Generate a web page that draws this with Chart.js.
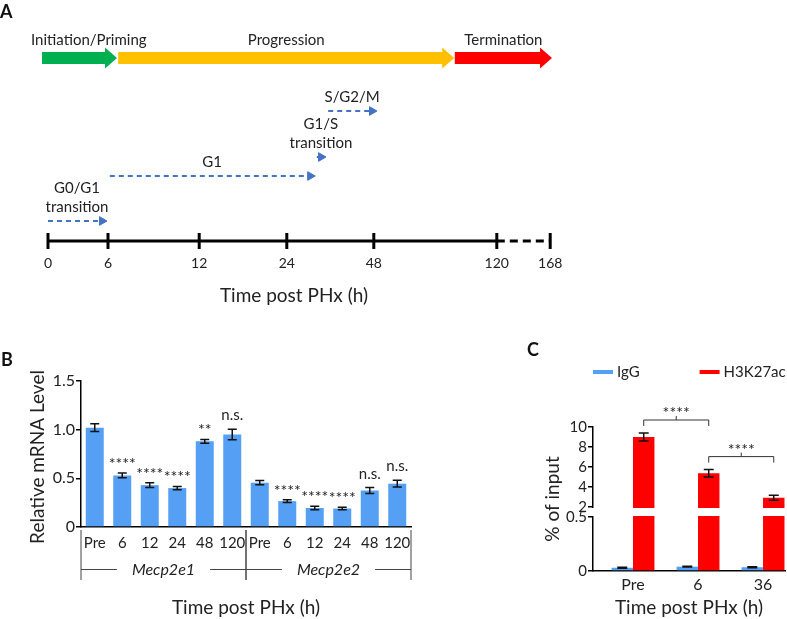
<!DOCTYPE html>
<html>
<head>
<meta charset="utf-8">
<script src="https://cdn.jsdelivr.net/npm/chart.js@4.4.1/dist/chart.umd.min.js"></script>
<style>
  html, body { margin: 0; padding: 0; background: #fff; }
  body { width: 787px; height: 619px; position: relative; overflow: hidden; font-family: Lato, "Open Sans", sans-serif; }
  .panel { position: absolute; }
  .tag { position: absolute; font-weight: bold; font-size: 18px; line-height: 22px; color: #111; }
</style>
</head>
<body>
<div class="panel" style="left:0;top:0;width:787px;height:320px"><canvas id="chartA"></canvas></div>
<div class="panel" style="left:0;top:340px;width:420px;height:279px"><canvas id="chartB"></canvas></div>
<div class="panel" style="left:490px;top:330px;width:297px;height:289px"><canvas id="chartC"></canvas></div>
<div class="tag" style="left:0;top:0">A</div>
<div class="tag" style="left:1px;top:348px">B</div>
<div class="tag" style="left:527px;top:338px">C</div>
<script>
// ---------- A: liver regeneration timeline ----------
const phaseNames = ['Initiation/Priming', 'Progression', 'Termination'];
const phaseStart = [-0.1, 1.17, 6.78];
const phaseEnd = [1.15, 6.77, 8.4];
const phaseColors = ['#00b050', '#ffc000', '#ff0000'];
const phaseLevel = 9.15;

const timeLabels = ['0', '6', '12', '24', '48', '120', '168'];
const timePos = [0, 1, 2.52, 3.98, 5.43, 7.48, 8.37];

const cycleNames = [['G0/G1', 'transition'], ['G1'], ['G1/S', 'transition'], ['S/G2/M']];
const cycleStart = [0, 1.03, 4.48, 4.67];
const cycleEnd = [0.9, 4.37, 4.55, 5.4];
const cycleLevel = [1, 3.25, 4.2, 6.5];

// ---------- B: Mecp2 isoform mRNA ----------
const mrnaLabels = ['Pre', '6', '12', '24', '48', '120', 'Pre', '6', '12', '24', '48', '120'];
const mrnaGroups = ['Mecp2e1', 'Mecp2e2'];
const mrnaMean = [1.02, 0.53, 0.43, 0.40, 0.88, 0.95, 0.455, 0.266, 0.195, 0.19, 0.375, 0.445];
const mrnaErr = [0.04, 0.025, 0.025, 0.017, 0.02, 0.053, 0.022, 0.015, 0.017, 0.012, 0.03, 0.035];
const mrnaSig = ['', '****', '****', '****', '**', 'n.s.', '', '****', '****', '****', 'n.s.', 'n.s.'];
const mrnaTicks = [0, 0.5, 1.0, 1.5];

// ---------- C: ChIP at Mecp2 ----------
const chipLabels = ['Pre', '6', '36'];
const chipSeries = ['IgG', 'H3K27ac'];
const iggMean = [0.03, 0.04, 0.035];
const iggErr = [0.004, 0.004, 0.004];
const h3Mean = [9.0, 5.37, 2.93];
const h3Err = [0.4, 0.37, 0.25];
const chipTicks = [0, 0.5, 2, 4, 6, 8, 10];
const chipPairs = [[0, 1], [1, 2]];
const chipPairText = ['****', '****'];

const FONT = 'Lato, "Open Sans", sans-serif';
const INK = '#222';
const BLUE_ARROW = '#4472c4';
const BAR_BLUE = '#55a0f5';
Chart.defaults.font.family = FONT;
Chart.defaults.color = INK;

// panel A ------------------------------------------------
const timelineDecor = {
  id: 'timelineDecor',
  beforeDatasetsDraw(chart) {
    const { ctx, scales: { x, y } } = chart;
    const py = y.getPixelForValue(phaseLevel);
    ctx.save();
    ctx.font = '15px ' + FONT;
    ctx.textAlign = 'center';
    ctx.textBaseline = 'middle';
    phaseNames.forEach((name, i) => {
      const x0 = x.getPixelForValue(phaseStart[i]);
      const x1 = x.getPixelForValue(phaseEnd[i]);
      const head = 12, body = 6, wing = 10.5;
      ctx.beginPath();
      ctx.moveTo(x0, py - body);
      ctx.lineTo(x1 - head, py - body);
      ctx.lineTo(x1 - head, py - wing);
      ctx.lineTo(x1, py);
      ctx.lineTo(x1 - head, py + wing);
      ctx.lineTo(x1 - head, py + body);
      ctx.lineTo(x0, py + body);
      ctx.closePath();
      ctx.fillStyle = phaseColors[i];
      ctx.fill();
      const w = ctx.measureText(name).width;
      const cx = Math.max((x0 + x1) / 2, 31 + w / 2);
      ctx.fillStyle = INK;
      ctx.fillText(name, cx, py - 18);
    });
    cycleNames.forEach((lines, i) => {
      const cx = (x.getPixelForValue(cycleStart[i]) + x.getPixelForValue(cycleEnd[i])) / 2 + 2;
      const ay = y.getPixelForValue(cycleLevel[i]);
      lines.forEach((t, j) => ctx.fillText(t, cx, ay - 14 - (lines.length - 1 - j) * 19));
    });
    ctx.restore();
  }
};

const cycleSets = cycleNames.map((n, i) => ({
  data: [{ x: cycleStart[i], y: cycleLevel[i] }, { x: cycleEnd[i], y: cycleLevel[i] }],
  showLine: true,
  borderColor: BLUE_ARROW,
  borderWidth: 2,
  borderDash: [5, 4],
  pointRadius: [0, 5],
  pointStyle: 'triangle',
  pointRotation: 90,
  pointBackgroundColor: BLUE_ARROW,
  pointBorderColor: BLUE_ARROW,
  pointBorderWidth: 1,
  clip: false
}));

new Chart(document.getElementById('chartA'), {
  type: 'scatter',
  data: {
    datasets: [
      { data: [{ x: timePos[0], y: 0 }, { x: timePos[5], y: 0 }], showLine: true, borderColor: '#000', borderWidth: 3, pointRadius: 0, clip: false },
      { data: [{ x: timePos[5], y: 0 }, { x: timePos[6], y: 0 }], showLine: true, borderColor: '#000', borderWidth: 3, borderDash: [8, 5], pointRadius: 0, clip: false },
      { data: timePos.map(v => ({ x: v, y: 0 })), pointStyle: 'line', pointRotation: 90, pointRadius: 8, pointBorderWidth: 3, pointBorderColor: '#000', clip: false },
      ...cycleSets
    ]
  },
  options: {
    responsive: true,
    maintainAspectRatio: false,
    animation: false,
    events: [],
    layout: { padding: { left: 33, right: 232, top: 30, bottom: 0 } },
    plugins: { legend: { display: false }, tooltip: { enabled: false } },
    scales: {
      x: {
        type: 'linear', min: -0.25, max: 8.45,
        afterBuildTicks: s => { s.ticks = timePos.map(v => ({ value: v })); },
        afterFit: s => { s.height = 79; },
        grid: { display: false, drawTicks: false },
        border: { display: false },
        ticks: { padding: 14, font: { size: 14 }, autoSkip: false, maxRotation: 0, callback: (v, i) => timeLabels[i] },
        title: { display: true, text: 'Time post PHx (h)', font: { size: 19 }, padding: { top: 0, bottom: 13 } }
      },
      y: { display: false, min: 0, max: 10.55 }
    }
  },
  plugins: [timelineDecor]
});

// panel B ------------------------------------------------
const mrnaDecor = {
  id: 'mrnaDecor',
  afterDatasetsDraw(chart) {
    const { ctx, chartArea, scales: { x, y } } = chart;
    const bars = chart.getDatasetMeta(0).data;
    ctx.save();
    ctx.strokeStyle = '#111';
    ctx.lineWidth = 1.5;
    ctx.fillStyle = INK;
    ctx.textAlign = 'center';
    bars.forEach((bar, i) => {
      const top = y.getPixelForValue(mrnaMean[i] + mrnaErr[i]);
      const bot = y.getPixelForValue(mrnaMean[i] - mrnaErr[i]);
      ctx.beginPath();
      ctx.moveTo(bar.x, top); ctx.lineTo(bar.x, bot);
      ctx.moveTo(bar.x - 4.5, top); ctx.lineTo(bar.x + 4.5, top);
      ctx.moveTo(bar.x - 4.5, bot); ctx.lineTo(bar.x + 4.5, bot);
      ctx.stroke();
      if (mrnaSig[i]) {
        const star = mrnaSig[i].startsWith('*');
        ctx.font = (star ? '16px ' : '15px ') + FONT;
        ctx.textBaseline = 'alphabetic';
        ctx.fillText(mrnaSig[i], bar.x, top - (star ? 4 : 9));
      }
    });
    // isoform brackets under the axis
    const per = mrnaLabels.length / mrnaGroups.length;
    const half = (x.getPixelForValue(1) - x.getPixelForValue(0)) / 2;
    const lineY = chartArea.bottom + 42.5;
    ctx.strokeStyle = '#444';
    ctx.lineWidth = 1;
    ctx.font = 'italic 16px ' + FONT;
    ctx.textBaseline = 'middle';
    mrnaGroups.forEach((g, k) => {
      const xl = x.getPixelForValue(k * per) - half;
      const xr = x.getPixelForValue(k * per + per - 1) + half;
      const tw = ctx.measureText(g).width;
      const cx = (xl + xr) / 2;
      ctx.beginPath();
      [xl, xr].forEach(px => { ctx.moveTo(px, chartArea.bottom + 3); ctx.lineTo(px, chartArea.bottom + 53); });
      ctx.moveTo(xl, lineY); ctx.lineTo(cx - tw / 2 - 15, lineY);
      ctx.moveTo(cx + tw / 2 + 15, lineY); ctx.lineTo(xr, lineY);
      ctx.stroke();
      ctx.fillText(g, cx, lineY);
    });
    // y title (drawn here so it is not squeezed to the axis height)
    ctx.font = '19px ' + FONT;
    ctx.translate(38, (chartArea.top + chartArea.bottom) / 2 + 3);
    ctx.rotate(-Math.PI / 2);
    ctx.fillText('Relative mRNA Level', 0, 0);
    ctx.restore();
  }
};

new Chart(document.getElementById('chartB'), {
  type: 'bar',
  data: {
    labels: mrnaLabels,
    datasets: [{ data: mrnaMean, backgroundColor: BAR_BLUE, barPercentage: 0.655, categoryPercentage: 1 }]
  },
  options: {
    responsive: true,
    maintainAspectRatio: false,
    animation: false,
    events: [],
    layout: { padding: { left: 0, top: 41, right: 9, bottom: 0 } },
    plugins: { legend: { display: false }, tooltip: { enabled: false } },
    scales: {
      x: {
        grid: { display: false, drawTicks: false },
        border: { color: '#000', width: 1.5 },
        ticks: { padding: 7, font: { size: 15 }, autoSkip: false, maxRotation: 0 },
        afterFit: s => { s.height = 92; },
        title: { display: true, text: 'Time post PHx (h)', font: { size: 19 }, padding: { top: 0, bottom: 0 } }
      },
      y: {
        min: 0, max: 1.5,
        afterBuildTicks: s => { s.ticks = mrnaTicks.map(v => ({ value: v })); },
        afterFit: s => { s.width = 81; },
        grid: { drawOnChartArea: false, drawTicks: true, tickLength: 5, color: '#000', lineWidth: 1.5 },
        border: { color: '#000', width: 1.5 },
        ticks: { padding: 1, font: { size: 16 }, callback: v => v === 0 ? '0' : v.toFixed(1) }
      }
    }
  },
  plugins: [mrnaDecor]
});

// panel C ------------------------------------------------
const breakLow = 0.5, breakHigh = 2;
const chipDecor = {
  id: 'chipDecor',
  afterDatasetsDraw(chart) {
    const { ctx, chartArea, scales: { y } } = chart;
    ctx.save();
    // axis break
    const gTop = y.getPixelForValue(breakHigh) + 1;
    const gBot = y.getPixelForValue(breakLow) - 1;
    ctx.fillStyle = '#fff';
    ctx.fillRect(chartArea.left - 2, gTop, chartArea.right - chartArea.left + 4, gBot - gTop);
    // error bars
    const means = [iggMean, h3Mean], errs = [iggErr, h3Err];
    ctx.strokeStyle = '#111';
    ctx.lineWidth = 1.5;
    means.forEach((m, d) => {
      chart.getDatasetMeta(d).data.forEach((bar, i) => {
        const top = y.getPixelForValue(m[i] + errs[d][i]);
        const bot = y.getPixelForValue(m[i] - errs[d][i]);
        ctx.beginPath();
        ctx.moveTo(bar.x, top); ctx.lineTo(bar.x, bot);
        ctx.moveTo(bar.x - 5, top); ctx.lineTo(bar.x + 5, top);
        ctx.moveTo(bar.x - 5, bot); ctx.lineTo(bar.x + 5, bot);
        ctx.stroke();
      });
    });
    // significance brackets between H3K27ac bars
    const red = chart.getDatasetMeta(1).data;
    ctx.lineWidth = 1;
    ctx.strokeStyle = '#333';
    ctx.fillStyle = INK;
    ctx.font = '16px ' + FONT;
    ctx.textAlign = 'center';
    ctx.textBaseline = 'alphabetic';
    chipPairs.forEach(([a, b], k) => {
      const ya = y.getPixelForValue(h3Mean[a] + h3Err[a]);
      const yb = y.getPixelForValue(h3Mean[b] + h3Err[b]);
      const by = Math.min(ya, yb) - 13;
      const xa = red[a].x, xb = red[b].x, mid = (xa + xb) / 2;
      ctx.beginPath();
      ctx.moveTo(xa, by + 6); ctx.lineTo(xa, by); ctx.lineTo(xb, by); ctx.lineTo(xb, by + 6);
      ctx.moveTo(mid, by); ctx.lineTo(mid, by - 4);
      ctx.stroke();
      ctx.fillText(chipPairText[k], mid, by - 2);
    });
    // legend
    let lx = chartArea.left;
    const ly = chartArea.top - 55;
    ctx.font = '15px ' + FONT;
    ctx.textAlign = 'left';
    ctx.textBaseline = 'middle';
    chart.data.datasets.forEach(ds => {
      ctx.strokeStyle = ds.backgroundColor;
      ctx.lineWidth = 4;
      ctx.beginPath();
      ctx.moveTo(lx, ly); ctx.lineTo(lx + 20, ly);
      ctx.stroke();
      ctx.fillText(ds.label, lx + 24, ly);
      lx += 24 + ctx.measureText(ds.label).width + 60;
    });
    ctx.restore();
  }
};

new Chart(document.getElementById('chartC'), {
  type: 'bar',
  data: {
    datasets: [
      { label: chipSeries[0], data: iggMean.map((v, i) => ({ x: i, y: v })), backgroundColor: BAR_BLUE, categoryPercentage: 0.66, barPercentage: 1 },
      { label: chipSeries[1], data: h3Mean.map((v, i) => ({ x: i, y: v })), backgroundColor: '#ff0000', categoryPercentage: 0.66, barPercentage: 1 }
    ]
  },
  options: {
    responsive: true,
    maintainAspectRatio: false,
    animation: false,
    events: [],
    layout: { padding: { left: 0, top: 97, right: 2, bottom: 0 } },
    plugins: { legend: { display: false }, tooltip: { enabled: false } },
    scales: {
      x: {
        type: 'linear', min: -0.615, max: 2.338, offset: false,
        afterBuildTicks: s => { s.ticks = chipLabels.map((l, i) => ({ value: i })); },
        afterFit: s => { s.height = 48; },
        grid: { display: false, drawTicks: false, offset: false },
        border: { color: '#000', width: 1.5 },
        ticks: { padding: 4, font: { size: 16 }, autoSkip: false, maxRotation: 0, callback: v => chipLabels[v] },
        title: { display: true, text: 'Time post PHx (h)', font: { size: 19 }, padding: { top: 0, bottom: 0 } }
      },
      y: {
        min: 0, max: 10,
        afterDataLimits: s => {
          s.getPixelForValue = function (v) {
            const h = this.bottom - this.top;
            const lowH = h * 0.375, gapH = h * 0.0694;
            if (v <= breakLow) return this.bottom - v / breakLow * lowH;
            if (v < breakHigh) return this.bottom - lowH - (v - breakLow) / (breakHigh - breakLow) * gapH;
            return this.bottom - lowH - gapH - (v - breakHigh) / (this.max - breakHigh) * (h - lowH - gapH);
          };
        },
        afterBuildTicks: s => { s.ticks = chipTicks.map(v => ({ value: v })); },
        afterFit: s => { s.width = 103; },
        grid: { drawOnChartArea: false, drawTicks: true, tickLength: 5, color: '#000', lineWidth: 1.5 },
        border: { color: '#000', width: 1.5 },
        ticks: { padding: 1, font: { size: 15 }, callback: v => String(v) },
        title: { display: true, text: '% of input', font: { size: 19 }, padding: { top: 51, bottom: 0 } }
      }
    }
  },
  plugins: [chipDecor]
});
</script>
</body>
</html>
